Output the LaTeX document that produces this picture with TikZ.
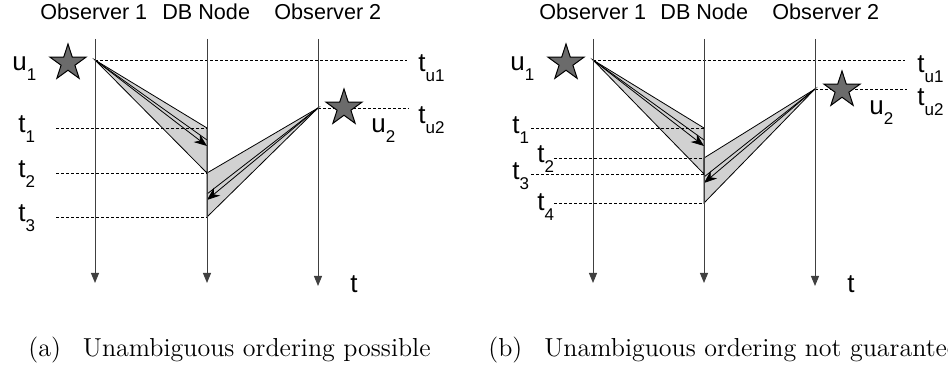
\documentclass[tikz,border=0pt]{standalone}
\usepackage{fontspec}
\usepackage{xcolor}
\usetikzlibrary{shapes.geometric, arrows.meta, positioning, calc}

\newfontfamily\arialfont{Liberation Sans}
\newcommand{\hdrfont}{\arialfont\fontsize{10.8}{12}\selectfont}
\newcommand{\lblfont}{\arialfont\fontsize{13}{15}\selectfont}
\newcommand{\lowsub}[1]{\raisebox{-5pt}{\fontsize{8.5}{9}\selectfont #1}}
\newcommand{\capfont}{\fontsize{13}{15}\selectfont}

\begin{document}
\begin{tikzpicture}[
        x=0.5pt, y=-0.5pt,
        hdr/.style={font=\hdrfont, anchor=base west, inner sep=0pt},
        lbl/.style={font=\lblfont, anchor=base west, inner sep=0pt},
        axis/.style={draw=black!75, line width=0.5pt, -{Triangle[length=5pt, width=4pt]}},
        tick/.style={black, line width=0.4pt, dash pattern=on 1.5pt off 1pt},
        event/.style={star, star points=5, star point ratio=2.618, draw=black, fill=black!58, minimum size=19pt, inner sep=0pt, line width=0.5pt},
        wedge/.style={fill=black!18, draw=black, line width=0.4pt},
        ray/.style={black, line width=0.4pt},
        msg/.style={-{Stealth[length=6.5pt, width=5pt]}, black, line width=0.4pt}
    ]
        \useasboundingbox (0,0) rectangle (948,367);

        % ================= (a) =================

        % Cabeceras
        \node[hdr] (obsA1) at (40,20) {Observer 1};
        \node[hdr] (dbA) at (162,20) {DB Node};
        \node[hdr] (obsA2) at (274,20) {Observer 2};

        % Ejes de tiempo
        \coordinate (a1top) at (95,39);  \coordinate (a1bot) at (95,283);
        \coordinate (adtop) at (207,39); \coordinate (adbot) at (207,283);
        \coordinate (a2top) at (318,39); \coordinate (a2bot) at (318,286);

        % Puntos de las cunas
        \coordinate (srcA1) at (95,60);
        \coordinate (srcA2) at (318,108);
        \coordinate (t1A) at (207,128);
        \coordinate (t2A) at (207,173);
        \coordinate (t3A) at (207,217);

        % Cunas (fondo)
        \filldraw[wedge] (srcA1) -- (t1A) -- (t2A) -- cycle;
        \filldraw[wedge] (srcA2) -- (t2A) -- (t3A) -- cycle;
        \draw[ray] (srcA1) -- (207,140);
        \draw[msg] (srcA1) -- (207,146);
        \draw[ray] (srcA2) -- (207,194);
        \draw[msg] (srcA2) -- (207,200);

        % Lineas discontinuas
        \draw[tick] (srcA1) -- (407,60);
        \draw[tick] (srcA2) -- (409,108);
        \draw[tick] (56,128) -- (t1A);
        \draw[tick] (56,173) -- (t2A);
        \draw[tick] (56,217) -- (t3A);

        \draw[axis] (a1top) -- (a1bot);
        \draw[axis] (adtop) -- (adbot);
        \draw[axis] (a2top) -- (a2bot);

        % Eventos
        \node[event] (starA1) at (68,63) {};
        \node[event] (starA2) at (344,108) {};

        % Etiquetas
        \node[lbl] (u1A) at (12,71) {u\lowsub{1}};
        \node[lbl] (u2A) at (371,133) {u\lowsub{2}};
        \node[lbl] (tu1A) at (418,72) {t\lowsub{u1}};
        \node[lbl] (tu2A) at (418,124) {t\lowsub{u2}};
        \node[lbl] (t1lA) at (18,133) {t\lowsub{1}};
        \node[lbl] (t2lA) at (18,178) {t\lowsub{2}};
        \node[lbl] (t3lA) at (18,222) {t\lowsub{3}};
        \node[lbl] (tA) at (350,293) {t};

        \node[anchor=base west, inner sep=0pt, font=\capfont] (capA) at (28,357) {(a)\hspace{11pt}Unambiguous ordering possible};

        % ================= (b) =================

        % Cabeceras
        \node[hdr] (obsB1) at (539,20) {Observer 1};
        \node[hdr] (dbB) at (660,20) {DB Node};
        \node[hdr] (obsB2) at (772,20) {Observer 2};

        % Ejes de tiempo
        \coordinate (b1top) at (593,39); \coordinate (b1bot) at (593,283);
        \coordinate (bdtop) at (704,39); \coordinate (bdbot) at (704,283);
        \coordinate (b2top) at (815,39); \coordinate (b2bot) at (815,286);

        % Puntos de las cunas
        \coordinate (srcB1) at (593,60);
        \coordinate (srcB2) at (815,89);
        \coordinate (t1B) at (704,128);
        \coordinate (t2B) at (704,158);
        \coordinate (t3B) at (704,174);
        \coordinate (t4B) at (704,203);

        % Cunas (fondo)
        \filldraw[wedge] (srcB1) -- (t1B) -- (t3B) -- cycle;
        \filldraw[wedge] (srcB2) -- (t2B) -- (t4B) -- cycle;
        \draw[ray] (srcB1) -- (704,140);
        \draw[msg] (srcB1) -- (704,146);
        \draw[ray] (srcB2) -- (704,177);
        \draw[msg] (srcB2) -- (704,183);

        % Lineas discontinuas
        \draw[tick] (srcB1) -- (905,60);
        \draw[tick] (srcB2) -- (907,89);
        \draw[tick] (531,128) -- (t1B);
        \draw[tick] (554,158) -- (t2B);
        \draw[tick] (531,174) -- (t3B);
        \draw[tick] (554,203) -- (t4B);

        \draw[axis] (b1top) -- (b1bot);
        \draw[axis] (bdtop) -- (bdbot);
        \draw[axis] (b2top) -- (b2bot);

        % Eventos
        \node[event] (starB1) at (566,63) {};
        \node[event] (starB2) at (842,90) {};

        % Etiquetas
        \node[lbl] (u1B) at (510,71) {u\lowsub{1}};
        \node[lbl] (u2B) at (869,115) {u\lowsub{2}};
        \node[lbl] (tu1B) at (917,73) {t\lowsub{u1}};
        \node[lbl] (tu2B) at (917,106) {t\lowsub{u2}};
        \node[lbl] (t1lB) at (512,134) {t\lowsub{1}};
        \node[lbl] (t2lB) at (537,163) {t\lowsub{2}};
        \node[lbl] (t3lB) at (512,180) {t\lowsub{3}};
        \node[lbl] (t4lB) at (537,211) {t\lowsub{4}};
        \node[lbl] (tB) at (847,293) {t};

        \node[anchor=base west, inner sep=0pt, font=\capfont] (capB) at (488,357) {(b)\hspace{11pt}Unambiguous ordering not guaranteed};

    \end{tikzpicture}
\end{document}
